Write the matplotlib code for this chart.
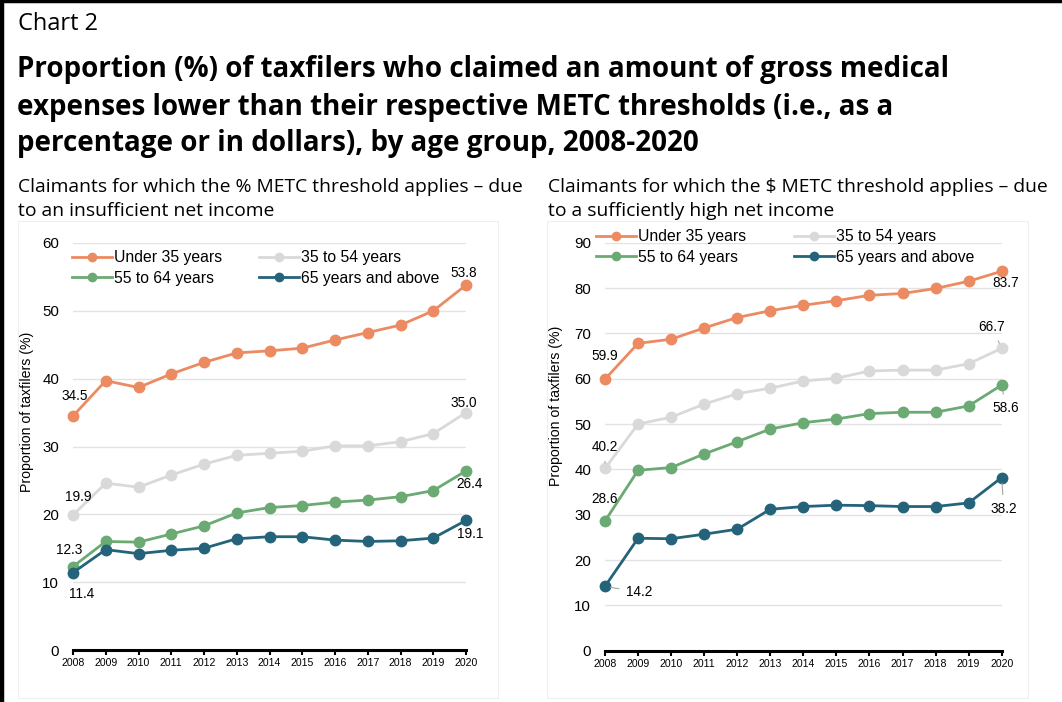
import numpy as np
import matplotlib
matplotlib.use("Agg")
import matplotlib.pyplot as plt
from matplotlib.patches import Rectangle
from matplotlib.lines import Line2D

# ── data ───────────────────────────────────────────────────────────────────
years = list(range(2008, 2021))
series_names = ["Under 35 years", "35 to 54 years", "55 to 64 years", "65 years and above"]

pct_under35 = [34.5, 39.7, 38.7, 40.7, 42.4, 43.8, 44.1, 44.5, 45.7, 46.8, 47.9, 50.0, 53.8]
pct_35to54 = [19.9, 24.6, 24.0, 25.8, 27.4, 28.7, 29.0, 29.3, 30.1, 30.1, 30.7, 31.9, 35.0]
pct_55to64 = [12.3, 16.0, 15.9, 17.1, 18.3, 20.2, 21.0, 21.3, 21.8, 22.1, 22.6, 23.5, 26.4]
pct_65plus = [11.4, 14.8, 14.2, 14.7, 15.0, 16.4, 16.7, 16.7, 16.2, 16.0, 16.1, 16.5, 19.1]

dol_under35 = [59.9, 67.8, 68.7, 71.2, 73.5, 75.0, 76.2, 77.2, 78.4, 78.8, 79.9, 81.5, 83.7]
dol_35to54 = [40.2, 50.0, 51.5, 54.4, 56.7, 57.9, 59.5, 60.1, 61.7, 61.9, 61.9, 63.3, 66.7]
dol_55to64 = [28.6, 39.8, 40.4, 43.4, 46.1, 48.9, 50.3, 51.1, 52.3, 52.6, 52.6, 54.0, 58.6]
dol_65plus = [14.2, 24.8, 24.7, 25.7, 26.8, 31.2, 31.8, 32.1, 32.0, 31.8, 31.8, 32.6, 38.2]

COLORS = ["#EC8A61", "#D9D9D9", "#6BAA73", "#24637A"]
BODY_FONT = "Liberation Sans"
HEAD_FONT = "Open Sans"

W, H = 1062, 702
fig = plt.figure(figsize=(W / 100, H / 100), dpi=100)


def px(x, y):
    """pixel coords (top-left origin) -> figure fraction"""
    return x / W, 1 - y / H


# ── frame + headings ───────────────────────────────────────────────────────
fig.add_artist(Line2D([2 / W, 2 / W], [0, 1], color="black", lw=3.2, transform=fig.transFigure))
fig.add_artist(Line2D([0, 1], [1 - 1 / H, 1 - 1 / H], color="black", lw=2.5, transform=fig.transFigure))
for x0, x1 in [(18, 498), (547, 1028)]:
    fig.add_artist(Rectangle(px(x0, 698), (x1 - x0) / W, (698 - 221) / H, fill=False,
                             edgecolor="#EFEFEF", lw=0.8, transform=fig.transFigure))

fig.text(*px(18, 24), "Chart 2", fontsize=17, family=HEAD_FONT, va="center", ha="left")
title_lines = ["Proportion (%) of taxfilers who claimed an amount of gross medical",
               "expenses lower than their respective METC thresholds (i.e., as a",
               "percentage or in dollars), by age group, 2008-2020"]
for yy, line in zip([70, 107, 144], title_lines):
    fig.text(*px(17, yy), line, fontsize=20, family=HEAD_FONT, fontweight="bold",
             va="center", ha="left")
fig.text(*px(18, 187), "Claimants for which the % METC threshold applies – due",
         fontsize=13.9, family=HEAD_FONT, va="center", ha="left")
fig.text(*px(18, 211), "to an insufficient net income",
         fontsize=13.9, family=HEAD_FONT, va="center", ha="left")
fig.text(*px(548, 187), "Claimants for which the $ METC threshold applies – due",
         fontsize=13.9, family=HEAD_FONT, va="center", ha="left")
fig.text(*px(548, 211), "to a sufficiently high net income",
         fontsize=13.9, family=HEAD_FONT, va="center", ha="left")


def draw_panel(rect, data, ymax, label_coords, legend_xy, colspace, labels):
    ax = fig.add_axes(rect)
    handles = []
    for vals, color, name in zip(data, COLORS, series_names):
        ln, = ax.plot(years, vals, color=color, lw=2.0, marker="o", markersize=7.5,
                      label=name, clip_on=False, zorder=3)
        handles.append(ln)
    ax.set_xlim(2008, 2020)
    ax.set_ylim(0, ymax)
    ax.set_yticks(np.arange(0, ymax + 1, 10))
    ax.set_xticks(years)
    ax.set_xticklabels([str(y) for y in years], fontsize=7.6, family=BODY_FONT)
    for t in ax.get_yticklabels():
        t.set_fontsize(10.8)
        t.set_family(BODY_FONT)
    ax.grid(axis="y", color="#E3E3E3", lw=1.0)
    ax.set_axisbelow(True)
    for s in ["top", "right", "left"]:
        ax.spines[s].set_visible(False)
    ax.spines["bottom"].set_linewidth(2.2)
    ax.spines["bottom"].set_zorder(4)
    ax.tick_params(axis="y", length=0, pad=10)
    ax.tick_params(axis="x", length=3.5, width=1.5, pad=2.5)
    ax.set_ylabel("Proportion of taxfilers (%)", fontsize=10.2, family=BODY_FONT)
    ax.yaxis.set_label_coords(*label_coords)

    # row-major order: Under 35 / 35-54 on top, 55-64 / 65+ below
    order = [0, 2, 1, 3]
    leg = ax.legend([handles[i] for i in order], [series_names[i] for i in order],
                    ncol=2, frameon=False, loc="upper left",
                    bbox_to_anchor=px(*legend_xy), bbox_transform=fig.transFigure,
                    borderpad=0, borderaxespad=0, handlelength=2.55, handletextpad=0.13,
                    columnspacing=colspace, labelspacing=0.36,
                    prop={"family": BODY_FONT, "size": 11.3})
    for h in leg.legend_handles:
        h.set_markersize(6)
        h.set_linewidth(2.0)

    for (si, yi, dx, dy, leader) in labels:
        xv, yv = years[yi], data[si][yi]
        ax.annotate(f"{yv:.1f}", xy=(xv, yv), xytext=(dx, dy), textcoords="offset pixels",
                    ha="center", va="center", fontsize=9.8, family=BODY_FONT,
                    arrowprops=dict(arrowstyle="-", color="#A6A6A6", lw=0.8,
                                    shrinkA=3, shrinkB=4) if leader else None,
                    zorder=5)
    return ax


left_labels = [(0, 0, 2, 20, False), (0, 12, -2, 12, False),
               (1, 0, 5, 18, False), (1, 12, -2, 10, False),
               (2, 0, -4, 17, False), (2, 12, 4, -13, False),
               (3, 0, 9, -21, False), (3, 12, 4, -14, False)]
right_labels = [(0, 0, 0, 23, False), (0, 12, 4, -12, False),
                (1, 0, 0, 21, True), (1, 12, -10, 21, True),
                (2, 0, 0, 22, False), (2, 12, 4, -23, True),
                (3, 0, 34, -6, True), (3, 12, 2, -31, True)]

draw_panel([73 / W, 1 - 650 / H, (466 - 73) / W, (650 - 243) / H],
           [pct_under35, pct_35to54, pct_55to64, pct_65plus], 60,
           (-0.10, 0.585), (72, 250), 2.36, left_labels)
draw_panel([605 / W, 1 - 650.7 / H, (1001.7 - 605) / W, (650.7 - 242.7) / H],
           [dol_under35, dol_35to54, dol_55to64, dol_65plus], 90,
           (-0.106, 0.60), (596, 229), 3.05, right_labels)

fig.savefig("out.png", dpi=100)
